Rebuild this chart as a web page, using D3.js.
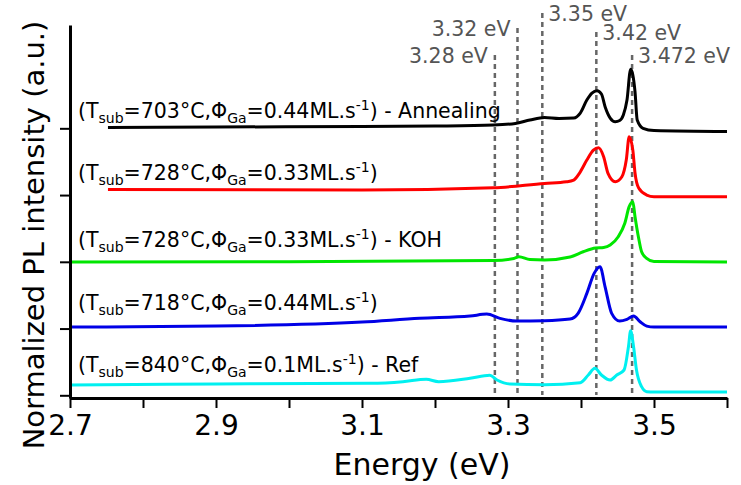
<!DOCTYPE html>
<html>
<head>
<meta charset="utf-8">
<script src="https://cdn.jsdelivr.net/npm/d3@7"></script>
<style>
  body { margin: 0; background: #fff; }
  svg { display: block; font-family: "DejaVu Sans", sans-serif; }
</style>
</head>
<body>
<div id="chart"></div>
<script>
// PL spectra, normalized, one [energy (eV), intensity] list per sample
const annealing = [
  [2.752, 0.012], [2.9, 0.02], [3.1, 0.027], [3.2, 0.034], [3.28, 0.049], [3.31, 0.072],
  [3.33, 0.124], [3.35, 0.162], [3.37, 0.147], [3.39, 0.154], [3.399, 0.229], [3.408, 0.424],
  [3.415, 0.529], [3.422, 0.563], [3.428, 0.514], [3.433, 0.324], [3.44, 0.154], [3.447, 0.099],
  [3.453, 0.117], [3.458, 0.199], [3.463, 0.424], [3.468, 0.884], [3.471, 0.80], [3.474, 0.55],
  [3.477, 0.124], [3.485, 0.0], [3.5, -0.033], [3.6, -0.048]
]
const t728 = [
  [2.752, 0.082], [3.1, 0.075], [3.28, 0.109], [3.35, 0.175], [3.38, 0.199], [3.39, 0.225],
  [3.398, 0.33], [3.408, 0.524], [3.417, 0.674], [3.424, 0.709], [3.431, 0.574], [3.437, 0.325],
  [3.447, 0.199], [3.456, 0.274], [3.462, 0.524], [3.466, 0.873], [3.471, 0.674], [3.474, 0.33],
  [3.479, 0.105], [3.49, 0.0], [3.5, -0.025], [3.6, -0.025]
]
const koh = [
  [2.7, -0.003], [3.0, 0.0], [3.28, 0.02], [3.308, 0.05], [3.315, 0.076], [3.33, 0.034],
  [3.35, 0.027], [3.385, 0.072], [3.403, 0.151], [3.42, 0.207], [3.431, 0.215], [3.44, 0.252],
  [3.451, 0.376], [3.46, 0.577], [3.466, 0.826], [3.471, 0.9], [3.474, 0.676], [3.479, 0.352],
  [3.483, 0.151], [3.49, 0.052], [3.5, 0.004], [3.6, -0.003]
]
const t718 = [
  [2.7, 0.022], [2.9, 0.037], [3.1, 0.097], [3.179, 0.153], [3.248, 0.187], [3.271, 0.217],
  [3.289, 0.153], [3.312, 0.112], [3.35, 0.117], [3.385, 0.142], [3.396, 0.228], [3.408, 0.527],
  [3.418, 0.827], [3.426, 0.926], [3.433, 0.626], [3.442, 0.228], [3.453, 0.112], [3.463, 0.138],
  [3.472, 0.187], [3.481, 0.102], [3.49, 0.037], [3.5, 0.022], [3.6, 0.022]
]
const ref = [
  [2.7, 0.154], [2.9, 0.169], [3.111, 0.18], [3.156, 0.204], [3.188, 0.24], [3.205, 0.204],
  [3.248, 0.255], [3.275, 0.3], [3.285, 0.229], [3.303, 0.169], [3.35, 0.159], [3.399, 0.189],
  [3.41, 0.304], [3.419, 0.404], [3.428, 0.304], [3.44, 0.229], [3.449, 0.304], [3.459, 0.379],
  [3.465, 0.728], [3.468, 0.968], [3.472, 0.728], [3.476, 0.379], [3.483, 0.129], [3.49, 0.054],
  [3.5, 0.049], [3.6, 0.049]
]

const spectra = [annealing, t728, koh, t718, ref]
const offsets = [4, 3, 2, 1, 0]
const colors = ['#000000', '#ff0000', '#00e600', '#0000e6', '#00f0f0']
const tSub = ['703', '728', '728', '718', '840']
const phiGa = ['0.44', '0.33', '0.33', '0.44', '0.1']
const suffix = [' - Annealing', '', ' - KOH', '', ' - Ref']
const labelY = [4.154, 3.225, 2.22, 1.278, 0.349]

// peak markers
const peakE = [3.282, 3.313, 3.347, 3.421, 3.470]
const peakLabels = ['3.28 eV', '3.32 eV', '3.35 eV', '3.42 eV', '3.472 eV']
const peakTop = [5.098, 5.502, 5.727, 5.443, 5.098]
const peakSide = ['left', 'left', 'right', 'right', 'right']

const xTicks = [2.7, 2.8, 2.9, 3.0, 3.1, 3.2, 3.3, 3.4, 3.5, 3.6]
const xTickLabels = [2.7, 2.9, 3.1, 3.3, 3.5]
const yTicks = [0, 1, 2, 3, 4]

const width = 741
const height = 485
const margin = { top: 25, right: 14, bottom: 87, left: 70 }

const svg = d3.select('#chart').append('svg')
  .attr('width', width)
  .attr('height', height)

const x = d3.scaleLinear().domain([2.7, 3.6]).range([margin.left, width - margin.right])
const y = d3.scaleLinear().domain([-0.0404, 5.548]).range([height - margin.bottom, margin.top])

// dashed peak lines
const peaks = svg.append('g').attr('class', 'peaks')
peakE.forEach((e, i) => {
  peaks.append('line')
    .attr('x1', x(e)).attr('x2', x(e))
    .attr('y1', y(peakTop[i])).attr('y2', y(-0.0404) - 3)
    .attr('stroke', '#666')
    .attr('stroke-width', 2.5)
    .attr('stroke-dasharray', '5,4')
  const left = peakSide[i] === 'left'
  peaks.append('text')
    .attr('x', x(e) + (left ? -7 : 6))
    .attr('y', y(peakTop[i]) + 8)
    .attr('text-anchor', left ? 'end' : 'start')
    .attr('font-size', 20.5)
    .attr('fill', '#555')
    .text(peakLabels[i])
})

// spectra
const line = d3.line()
  .x(d => x(d[0]))
  .y(d => y(d[1]))
  .curve(d3.curveMonotoneX)

spectra.forEach((s, i) => {
  svg.append('path')
    .datum(s.map(p => [p[0], p[1] + offsets[i]]))
    .attr('fill', 'none')
    .attr('stroke', colors[i])
    .attr('stroke-width', 3)
    .attr('stroke-linejoin', 'round')
    .attr('d', line)
})

// sample labels with sub/superscripts
spectra.forEach((s, i) => {
  const t = svg.append('text')
    .attr('x', x(2.711))
    .attr('y', y(labelY[i]))
    .attr('font-size', 20.5)
    .attr('fill', '#000')
  t.append('tspan').text('(T')
  t.append('tspan').attr('font-size', 14).attr('dy', 5).text('sub')
  t.append('tspan').attr('dy', -5).text('=' + tSub[i] + '°C,Φ')
  t.append('tspan').attr('font-size', 14).attr('dy', 5).text('Ga')
  t.append('tspan').attr('dy', -5).text('=' + phiGa[i] + 'ML.s')
  t.append('tspan').attr('font-size', 14).attr('dy', -8).text('-1')
  t.append('tspan').attr('dy', 8).text(')' + suffix[i])
})

// axes
const xAxis = svg.append('g')
  .attr('transform', 'translate(0,' + (height - margin.bottom) + ')')
  .call(d3.axisBottom(x)
    .tickValues(xTicks)
    .tickSize(10)
    .tickSizeOuter(0)
    .tickFormat(d => xTickLabels.some(v => Math.abs(v - d) < 1e-9) ? d3.format('.1f')(d) : ''))
xAxis.select('.domain').attr('stroke-width', 3).attr('stroke', '#000')
xAxis.selectAll('.tick line').attr('stroke-width', 2).attr('stroke', '#000')
xAxis.selectAll('.tick text')
  .attr('y', 37).attr('dy', null)
  .attr('font-size', 28)
  .attr('font-family', '"DejaVu Sans", sans-serif')
  .attr('fill', '#000')

const yAxis = svg.append('g')
  .attr('transform', 'translate(' + margin.left + ',0)')
  .call(d3.axisLeft(y).tickValues(yTicks).tickSize(10).tickSizeOuter(0).tickFormat(''))
yAxis.select('.domain').attr('stroke-width', 3).attr('stroke', '#000')
yAxis.selectAll('.tick line').attr('stroke-width', 2).attr('stroke', '#000')

svg.append('text')
  .attr('x', 422)
  .attr('y', 475)
  .attr('text-anchor', 'middle')
  .attr('font-size', 30)
  .text('Energy (eV)')

svg.append('text')
  .attr('transform', 'translate(44,235) rotate(-90)')
  .attr('text-anchor', 'middle')
  .attr('font-size', 29)
  .text('Normalized PL intensity (a.u.)')
</script>
</body>
</html>
